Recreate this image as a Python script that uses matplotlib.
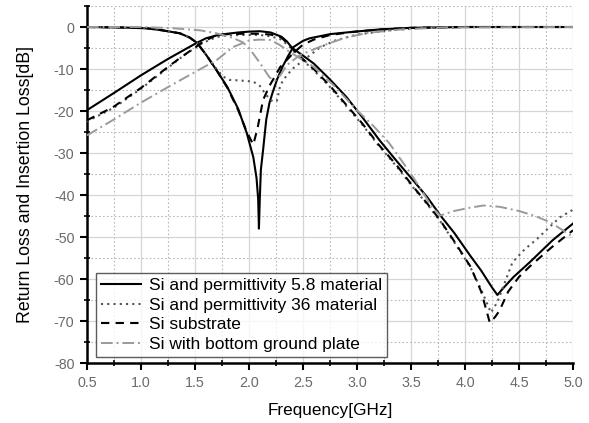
import matplotlib
matplotlib.use("Agg")
import matplotlib.pyplot as plt
from matplotlib.ticker import MultipleLocator

plt.rcParams['font.family'] = ['Liberation Sans', 'DejaVu Sans']
plt.rcParams['axes.unicode_minus'] = False

# ---- data (GHz, dB) ----
# Si and permittivity 5.8 material
m58_s11_f = [0.5, 0.8, 1.05, 1.2, 1.36, 1.45, 1.52, 1.6, 1.7, 1.8, 1.9, 1.98, 2.04, 2.07, 2.085, 2.092,
             2.1, 2.11, 2.13, 2.16, 2.19, 2.22, 2.26, 2.31, 2.36, 2.41, 2.5, 2.56, 2.75, 2.94, 3.2, 3.5, 4.0, 5.0]
m58_s11_db = [0.0, -0.1, -0.3, -0.8, -1.5, -2.5, -3.8, -6.5, -10.3, -14.3, -19.5, -25.3, -31.0, -36.0, -41.0, -48.0,
              -41.0, -34.0, -29.4, -22.0, -18.0, -15.5, -12.5, -9.5, -7.0, -4.8, -3.3, -2.7, -1.7, -1.2, -0.6, -0.2, 0.0, 0.0]
m58_s21_f = [0.5, 0.75, 1.0, 1.25, 1.5, 1.6, 1.7, 1.8, 1.9, 2.0, 2.1, 2.2, 2.3, 2.35, 2.4, 2.5, 2.6, 2.75,
             2.9, 3.05, 3.21, 3.37, 3.52, 3.65, 3.77, 3.9, 4.05, 4.15, 4.25, 4.3, 4.35, 4.45, 4.6, 4.81, 5.0]
m58_s21_db = [-19.8, -15.7, -11.5, -7.6, -4.0, -2.7, -2.0, -1.6, -1.3, -1.1, -1.0, -1.3, -2.3, -3.4, -5.0, -6.8, -8.7,
              -12.5, -16.6, -21.5, -27.0, -32.0, -36.5, -40.5, -44.8, -49.0, -54.5, -58.0, -62.0, -63.8, -62.3,
              -59.5, -56.0, -50.8, -46.8]

# Si and permittivity 36 material
m36_s11_f = [0.5, 0.8, 1.05, 1.2, 1.36, 1.45, 1.52, 1.6, 1.7, 1.76, 1.82, 1.9, 2.04, 2.1, 2.16, 2.22, 2.26,
             2.29, 2.35, 2.41, 2.54, 2.66, 2.8, 3.0, 3.3, 3.6, 4.0, 5.0]
m36_s11_db = [0.0, -0.1, -0.3, -0.8, -1.5, -2.5, -3.8, -6.5, -10.0, -11.8, -12.6, -12.7, -13.0, -14.0, -16.2, -17.8,
              -17.5, -13.8, -11.5, -9.8, -7.2, -4.8, -3.2, -1.8, -0.8, -0.2, 0.0, 0.0]
m36_s21_f = [0.5, 0.75, 1.0, 1.25, 1.4, 1.57, 1.7, 1.8, 1.95, 2.1, 2.2, 2.3, 2.38, 2.45, 2.6, 2.75, 2.9, 3.05,
             3.2, 3.37, 3.52, 3.65, 3.77, 3.9, 4.05, 4.15, 4.24, 4.3, 4.44, 4.55, 4.67, 4.8, 4.88, 5.0]
m36_s21_db = [-22.5, -19.2, -14.7, -9.7, -6.7, -3.8, -2.4, -2.0, -1.9, -1.9, -2.2, -3.0, -4.8, -6.8, -10.3, -14.3,
              -18.8, -23.3, -28.2, -33.3, -38.2, -42.2, -46.2, -51.2, -57.2, -62.5, -68.0, -65.5, -56.0, -53.0,
              -50.4, -47.2, -45.3, -43.5]

# Si substrate
sub_s11_f = [0.5, 0.8, 1.05, 1.2, 1.36, 1.45, 1.52, 1.6, 1.7, 1.8, 1.9, 1.98, 2.04, 2.08, 2.13, 2.19,
             2.29, 2.41, 2.5, 2.6, 2.75, 2.95, 3.2, 3.5, 4.0, 5.0]
sub_s11_db = [0.0, -0.1, -0.3, -0.8, -1.5, -2.5, -3.8, -6.5, -10.3, -14.5, -19.8, -25.0, -28.0, -24.0, -17.4, -14.0,
              -9.5, -6.2, -4.2, -3.0, -1.9, -1.2, -0.6, -0.2, 0.0, 0.0]
sub_s21_f = [0.5, 0.74, 1.0, 1.25, 1.36, 1.57, 1.7, 1.8, 1.95, 2.1, 2.2, 2.3, 2.38, 2.45, 2.6, 2.75, 2.9, 3.05,
             3.2, 3.37, 3.52, 3.65, 3.77, 3.9, 4.05, 4.15, 4.23, 4.28, 4.32, 4.4, 4.5, 4.6, 4.8, 5.0]
sub_s21_db = [-22.2, -19.1, -14.5, -9.5, -7.4, -3.6, -1.9, -1.7, -1.6, -1.6, -1.8, -2.5, -4.5, -6.5, -10.0, -14.0,
              -18.5, -23.0, -28.0, -33.0, -38.0, -42.0, -46.0, -51.0, -57.0, -63.0, -70.4, -69.0, -67.5, -63.0,
              -59.5, -57.0, -52.5, -48.4]

# Si with bottom ground plate
gnd_s11_f = [0.5, 1.0, 1.3, 1.55, 1.7, 1.85, 1.94, 2.0, 2.1, 2.19, 2.24, 2.29, 2.35, 2.47, 2.63, 2.75, 2.9,
             3.1, 3.4, 3.8, 5.0]
gnd_s11_db = [0.0, 0.0, -0.3, -0.8, -1.5, -2.6, -3.6, -5.0, -8.5, -12.0, -12.8, -11.5, -9.1, -6.7, -5.0, -3.8, -2.5,
              -1.4, -0.6, -0.1, 0.0]
gnd_s21_f = [0.5, 0.75, 1.0, 1.25, 1.55, 1.7, 1.85, 2.0, 2.1, 2.2, 2.28, 2.38, 2.47, 2.6, 2.78, 3.0, 3.15, 3.3,
             3.5, 3.7, 3.77, 3.9, 4.05, 4.17, 4.32, 4.5, 4.65, 4.79, 4.9, 5.0]
gnd_s21_db = [-25.8, -22.0, -18.0, -14.3, -10.0, -7.9, -4.8, -3.2, -3.0, -3.1, -4.2, -6.0, -7.4, -9.5, -13.8, -19.8,
              -23.5, -27.7, -35.0, -43.0, -44.9, -43.8, -43.0, -42.5, -42.8, -43.8, -45.0, -46.5, -48.3, -50.0]

labels = ["Si and permittivity 5.8 material", "Si and permittivity 36 material",
          "Si substrate", "Si with bottom ground plate"]
x_ticks = [0.5, 1.0, 1.5, 2.0, 2.5, 3.0, 3.5, 4.0, 4.5, 5.0]
x_ticklabels = ["0.5", "1.0", "1.5", "2.0", "2.5", "3.0", "3.5", "4.0", "4.5", "5.0"]
y_ticks = [-80, -70, -60, -50, -40, -30, -20, -10, 0]

# ---- figure ----
fig = plt.figure(figsize=(5.89, 4.23), dpi=100)
ax = fig.add_axes([0.1477, 0.1418, 0.9728 - 0.1477, 0.9858 - 0.1418])

styles = [
    dict(color='black', linestyle='-', linewidth=1.5),
    dict(color='#555555', linestyle=(0, (1, 2)), linewidth=1.5),
    dict(color='black', linestyle=(0, (4, 3)), linewidth=1.5),
    dict(color='#9a9a9a', linestyle=(0, (6, 2, 1, 2)), linewidth=1.4),
]
series = [
    (m58_s11_f, m58_s11_db, m58_s21_f, m58_s21_db),
    (m36_s11_f, m36_s11_db, m36_s21_f, m36_s21_db),
    (sub_s11_f, sub_s11_db, sub_s21_f, sub_s21_db),
    (gnd_s11_f, gnd_s11_db, gnd_s21_f, gnd_s21_db),
]
handles = []
for (f1, d1, f2, d2), st, lab in zip(series, styles, labels):
    h, = ax.plot(f1, d1, label=lab, zorder=3, **st)
    ax.plot(f2, d2, zorder=3, **st)
    handles.append(h)

ax.set_xlim(0.5, 5.0)
ax.set_ylim(-80, 5)
ax.set_xticks(x_ticks)
ax.set_xticklabels(x_ticklabels)
ax.xaxis.set_minor_locator(MultipleLocator(0.25))
ax.set_yticks(y_ticks)
ax.yaxis.set_minor_locator(MultipleLocator(5))

ax.grid(which='major', color='#d6d6d6', linestyle='-', linewidth=0.9, zorder=0)
ax.grid(which='minor', color='#b8b8b8', linestyle=(0, (1.5, 2)), linewidth=0.8, zorder=0)
ax.set_axisbelow(True)

for s in ['top', 'right']:
    ax.spines[s].set_visible(False)
for s in ['left', 'bottom']:
    ax.spines[s].set_linewidth(1.8)
    ax.spines[s].set_color('black')

ax.tick_params(which='major', direction='out', length=5, width=1.5, labelsize=10.3,
               labelcolor='#6a6a6a', pad=4)
ax.tick_params(which='minor', direction='inout', length=5, width=1.2)

ax.set_xlabel("Frequency[GHz]", fontsize=12.3, labelpad=10)
ax.set_ylabel("Return Loss and Insertion Loss[dB]", fontsize=12.8, labelpad=14)

leg = ax.legend(handles=handles, loc='lower left', bbox_to_anchor=(0.0185, 0.017),
                fontsize=12.5, frameon=True, fancybox=False, handlelength=2.3,
                labelspacing=0.25, borderpad=0.3, handletextpad=0.45, borderaxespad=0.0)
leg.get_frame().set_edgecolor('#333333')
leg.get_frame().set_linewidth(1.0)

fig.savefig("out.png", dpi=100)
